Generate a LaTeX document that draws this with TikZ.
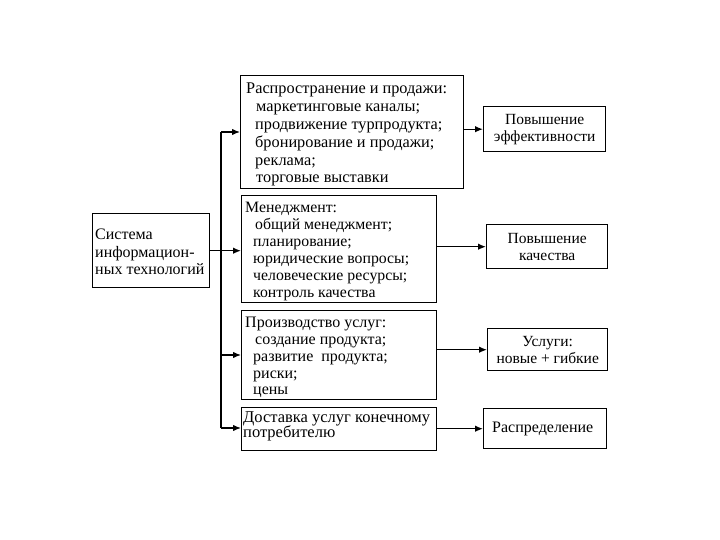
\documentclass[tikz,border=0pt]{standalone}
\usepackage{fontspec}
\setmainfont{Liberation Serif}
\usetikzlibrary{arrows.meta}
\begin{document}
\begin{tikzpicture}[x=1pt,y=-1pt,
  box/.style={draw=black, line width=1.4pt, anchor=north west, inner sep=0pt},
  txt/.style={anchor=north west, align=left, inner sep=0pt, font=\fontsize{16.3}{17.8}\selectfont},
  rtxt/.style={align=center, inner sep=0pt, font=\fontsize{15}{17}\selectfont},
  arr/.style={line width=1.3pt, -{Latex[length=8pt,width=6.5pt]}},
  ln/.style={line width=1.3pt}]
\useasboundingbox[fill=white] (0,0) rectangle (720,540);

% left system box
\node[box, minimum width=117pt, minimum height=74pt] (sys) at (92,213) {};
\node[txt, font=\fontsize{16}{17.5}\selectfont] (systxt) at (95,229) {Система\\информацион-\\ных технологий};

% middle boxes
\node[box, minimum width=223pt, minimum height=113pt] (b1) at (240,75) {};
\node[txt] (b1t) at (246,83) {Распространение и продажи:\\
\hspace*{10pt}маркетинговые каналы;\\
\hspace*{9pt}продвижение турпродукта;\\
\hspace*{9pt}бронирование и продажи;\\
\hspace*{9pt}реклама;\\
\hspace*{10pt}торговые выставки};

\node[box, minimum width=195pt, minimum height=107pt] (b2) at (241,195) {};
\node[txt, font=\fontsize{15.8}{17}\selectfont] (b2t) at (245,202) {Менеджмент:\\
\hspace*{10pt}общий менеджмент;\\
\hspace*{8pt}планирование;\\
\hspace*{8pt}юридические вопросы;\\
\hspace*{8pt}человеческие ресурсы;\\
\hspace*{8pt}контроль качества};

\node[box, minimum width=195pt, minimum height=89pt] (b3) at (241,310) {};
\node[txt, font=\fontsize{16}{16.8}\selectfont] (b3t) at (245,317) {Производство услуг:\\
\hspace*{10pt}создание продукта;\\
\hspace*{8pt}развитие\ \ продукта;\\
\hspace*{8pt}риски;\\
\hspace*{8pt}цены};

\node[box, minimum width=195pt, minimum height=43pt] (b4) at (241,407) {};
\node[txt, font=\fontsize{16.5}{15.5}\selectfont] (b4t) at (243,411) {Доставка\ услуг\ конечному\\потребителю};

% right boxes
\node[box, minimum width=122pt, minimum height=45pt] (r1) at (483,106) {};
\node[rtxt, font=\fontsize{15.5}{17}\selectfont] (r1t) at (r1.center) {Повышение\\эффективности};
\node[box, minimum width=121pt, minimum height=44pt] (r2) at (486,224) {};
\node[rtxt, font=\fontsize{15.5}{17}\selectfont] (r2t) at (r2.center) {Повышение\\качества};
\node[box, minimum width=120pt, minimum height=42pt] (r3) at (487,328) {};
\node[rtxt, font=\fontsize{15.5}{17}\selectfont] (r3t) at (r3.center) {Услуги:\\новые\ +\ гибкие};
\node[box, minimum width=123pt, minimum height=40pt] (r4) at (483,408) {};
\node[rtxt, anchor=west, font=\fontsize{16}{17}\selectfont] (r4t) at ([xshift=9pt]r4.west) {Распределение};

% trunk
\coordinate (t1) at (221,132);
\coordinate (t3) at (221,355);
\coordinate (t4) at (221,428);
\draw[ln] (t1) -- (t4);
\draw[arr] (t1) -- (t1 -| b1.west);
\draw[arr] (t3) -- (t3 -| b3.west);
\draw[arr] (t4) -- (t4 -| b4.west);
\draw[arr] (sys.east) -- (sys.east -| b2.west);

% outputs
\draw[arr] (r1.west -| b1.east) -- (r1.west);
\draw[arr] (r2.west -| b2.east) -- (r2.west);
\draw[arr] (r3.west -| b3.east) -- (r3.west);
\draw[arr] (r4.west -| b4.east) -- (r4.west);
\end{tikzpicture}
\end{document}
